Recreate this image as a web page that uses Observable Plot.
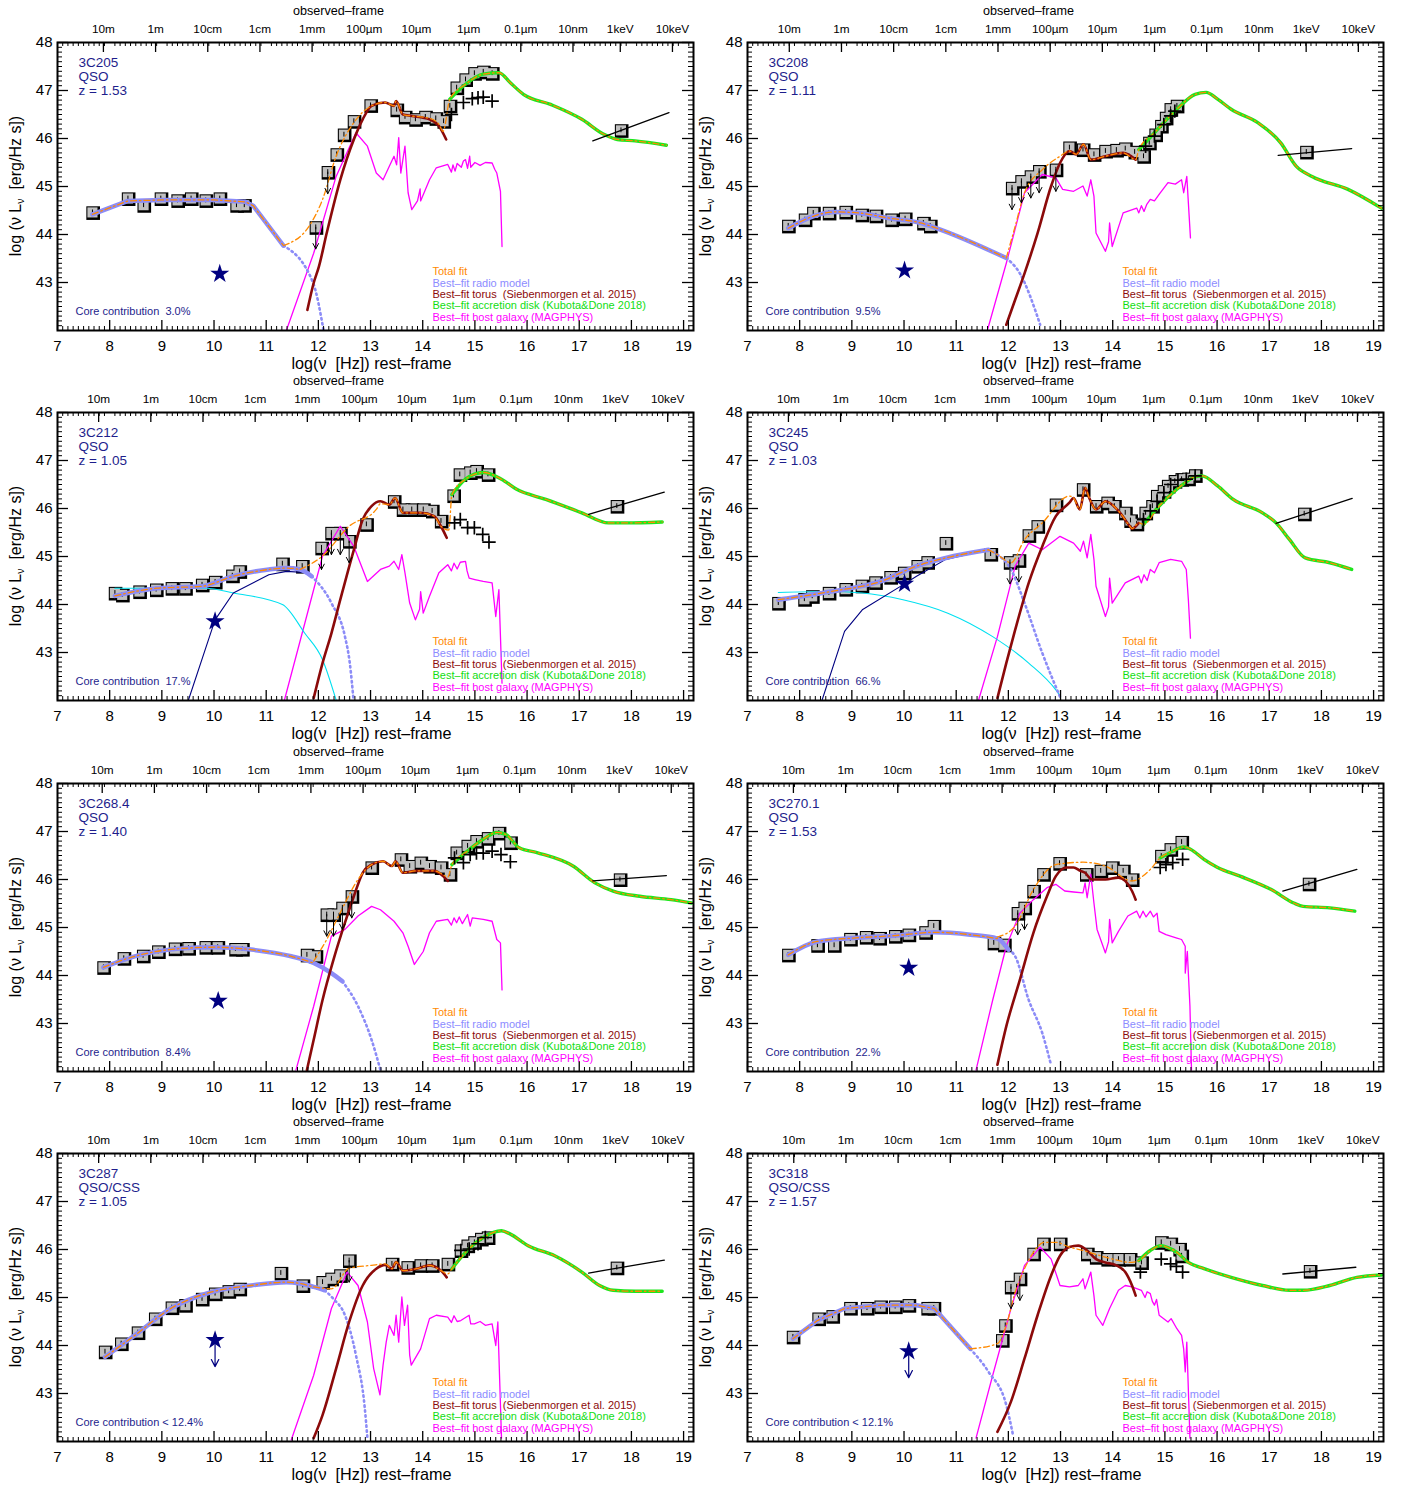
<!DOCTYPE html>
<html><head><meta charset="utf-8">
<script src="https://cdn.jsdelivr.net/npm/d3@7"></script>
<script src="https://cdn.jsdelivr.net/npm/@observablehq/plot@0.6"></script>
<style>
body{margin:0;background:#fff}
#fig{position:relative;width:1406px;height:1489px;overflow:hidden}
#fig svg{position:absolute}
svg text{white-space:pre}
</style></head><body><div id="fig"></div>
<script>
// ---------- panel labels ----------
const names = ["3C205","3C208","3C212","3C245","3C268.4","3C270.1","3C287","3C318"];
const classes = ["QSO","QSO","QSO","QSO","QSO","QSO","QSO/CSS","QSO/CSS"];
const redshifts = [1.53,1.11,1.05,1.03,1.40,1.53,1.05,1.57];
const coreTexts = ["Core contribution  3.0%","Core contribution  9.5%","Core contribution  17.%","Core contribution  66.%","Core contribution  8.4%","Core contribution  22.%","Core contribution < 12.4%","Core contribution < 12.1%"];
const starIsLimit = [false,false,false,false,false,false,true,true];
const brokenRadio = [true,false,false,false,false,false,false,true];
const topLabels = ["10m","1m","10cm","1cm","1mm","100µm","10µm","1µm","0.1µm","10nm","1keV","10keV"];
const topWavelengthsM = [10,1,0.1,0.01,0.001,1e-4,1e-5,1e-6,1e-7,1e-8,null,null];
const topEnergiesKeV = [null,null,null,null,null,null,null,null,null,null,1,10];
const legendLabels = ["Total fit","Best–fit radio model","Best–fit torus  (Siebenmorgen et al. 2015)","Best–fit accretion disk (Kubota&Done 2018)","Best–fit host galaxy (MAGPHYS)"];
const xTickValues = [7,8,9,10,11,12,13,14,15,16,17,18,19];
const yTickValues = [43,44,45,46,47,48];

// ---------- 3C205 ----------
const p205Pts=[[7.67,44.46],[8.35,44.75],[8.65,44.61],[8.98,44.75],[9.30,44.71],[9.56,44.75],[9.84,44.71],[10.11,44.75],[10.43,44.61],[10.58,44.61],[12.35,45.67],[12.49,46.08],[12.68,46.36],[13.00,46.69],[13.50,46.60],[13.66,46.45],[13.86,46.40],[14.05,46.45],[14.25,46.42],[14.40,46.36],[14.52,46.68],[14.65,47.06],[14.82,47.23],[14.99,47.36],[15.16,47.39],[15.33,47.36]];
const p205Lim=[[11.95,44.15],[12.18,45.30]];
const p205Xray=[[17.80,46.17]];
const p205Cross=[[14.55,46.50],[14.78,46.75],[14.95,46.83],[15.06,46.85],[15.16,46.86],[15.33,46.78]];
const p205Star=[[10.11,43.18]];
const p205Radio=[[7.67,44.42],[8.35,44.70],[9.0,44.72],[10.0,44.72],[10.6,44.68],[10.75,44.60],[11.33,43.77]];
const p205RadioExt=[[11.33,43.77],[11.9,42.99],[12.1,42.0]];
const p205Mid=[[11.33,43.77],[11.82,44.17],[12.08,44.73],[12.34,45.63],[12.68,46.33],[13.02,46.68],[13.28,46.75],[13.45,46.68],[13.49,46.78],[13.62,46.50],[13.79,46.47],[14.13,46.42],[14.31,46.30],[14.39,46.15],[14.52,46.82]];
const p205Torus=[[11.79,42.43],[11.91,42.99],[12.01,43.33],[12.16,44.03],[12.42,45.14],[12.68,45.98],[12.85,46.40],[13.02,46.68],[13.28,46.75],[13.45,46.68],[13.49,46.78],[13.62,46.50],[13.79,46.47],[14.13,46.40],[14.31,46.26],[14.45,45.98]];
const p205Disk=[[14.52,46.82],[14.82,47.13],[15.16,47.34],[15.46,47.37],[15.68,47.16],[15.93,46.92],[16.45,46.71],[17.05,46.40],[17.47,46.09],[17.73,45.98],[18.07,45.95],[18.67,45.86]];
const p205XLine=[[17.26,45.95],[18.72,46.54]];
const p205Host=[[11.39,42.01],[11.91,43.61],[12.34,45.21],[12.72,46.12],[12.94,45.84],[13.11,45.28],[13.24,45.14],[13.36,45.42],[13.45,45.63],[13.50,45.45],[13.54,46.02],[13.58,45.28],[13.66,45.84],[13.72,44.87],[13.79,44.52],[13.90,44.70],[13.95,44.95],[13.96,44.70],[14.13,45.14],[14.26,45.39],[14.48,45.46],[14.55,45.30],[14.58,45.45],[14.62,45.32],[14.66,45.48],[14.74,45.40],[14.78,45.53],[14.82,45.56],[14.86,45.38],[14.90,45.63],[14.92,45.40],[15.00,45.50],[15.10,45.44],[15.20,45.50],[15.33,45.49],[15.38,45.36],[15.42,45.28],[15.49,44.90],[15.52,43.75]];

// ---------- 3C208 ----------
const p208Pts=[[7.78,44.18],[8.10,44.31],[8.26,44.45],[8.56,44.45],[8.88,44.47],[9.19,44.41],[9.46,44.39],[9.76,44.31],[10.02,44.33],[10.37,44.24],[10.50,44.18],[13.17,45.81],[13.43,45.77],[13.64,45.67],[13.86,45.74],[14.07,45.76],[14.24,45.79],[14.42,45.72],[14.59,45.63],[14.70,45.91],[14.82,46.08],[14.93,46.26],[15.02,46.43],[15.11,46.61],[15.23,46.68]];
const p208Lim=[[12.07,44.97],[12.25,45.11],[12.43,45.21],[12.59,45.32],[12.91,45.35]];
const p208Xray=[[17.71,45.72]];
const p208Cross=[[14.63,45.84],[14.80,46.05],[14.98,46.29],[15.11,46.47],[15.19,46.57]];
const p208Star=[[10.01,43.25]];
const p208Radio=[[7.78,44.13],[8.26,44.38],[8.69,44.47],[9.12,44.45],[9.72,44.34],[10.32,44.24],[10.63,44.13],[11.96,43.51]];
const p208RadioExt=[[11.96,43.51],[12.22,43.19],[12.61,42.12]];
const p208Mid=[[11.96,43.51],[12.13,44.17],[12.31,44.87],[12.65,45.35],[12.99,45.63],[13.17,45.74],[13.30,45.67],[13.44,45.88],[13.58,45.56],[13.86,45.63],[14.20,45.70],[14.44,45.56],[14.50,45.77]];
const p208Torus=[[11.96,42.12],[12.13,42.64],[12.31,43.19],[12.56,44.03],[12.82,45.01],[12.99,45.49],[13.17,45.74],[13.30,45.67],[13.44,45.88],[13.58,45.56],[13.86,45.63],[14.20,45.70],[14.44,45.56]];
const p208Disk=[[14.50,45.77],[14.80,46.12],[15.23,46.61],[15.58,46.92],[15.79,46.96],[16.01,46.82],[16.27,46.61],[16.78,46.33],[17.22,45.91],[17.52,45.42],[17.82,45.21],[18.51,44.94],[19.15,44.55]];
const p208XLine=[[17.17,45.65],[18.58,45.79]];
const p208Host=[[11.60,42.01],[11.96,43.40],[12.31,44.87],[12.65,45.25],[12.91,45.18],[13.04,44.94],[13.25,44.90],[13.43,45.01],[13.51,44.80],[13.58,45.14],[13.64,44.80],[13.68,44.03],[13.86,43.65],[13.92,43.85],[13.94,44.24],[13.99,43.75],[14.20,44.45],[14.46,44.55],[14.50,44.45],[14.55,44.60],[14.60,44.48],[14.65,44.62],[14.72,44.73],[14.80,44.70],[14.90,44.85],[15.06,45.08],[15.20,45.05],[15.32,45.14],[15.36,44.87],[15.42,45.21],[15.49,43.93]];

// ---------- 3C212 ----------
const p212Pts=[[8.10,44.24],[8.24,44.20],[8.57,44.27],[8.89,44.31],[9.19,44.34],[9.45,44.34],[9.77,44.41],[10.02,44.47],[10.35,44.60],[10.49,44.69],[11.31,44.85],[11.69,44.80],[12.92,45.67],[13.45,46.15],[13.62,45.98],[13.79,45.98],[14.01,45.98],[14.18,45.95],[14.35,45.74],[14.59,46.27],[14.71,46.71],[14.91,46.75],[15.03,46.78],[15.25,46.71]];
const p212Lim=[[12.06,45.18],[12.25,45.49],[12.42,45.49],[12.59,45.32]];
const p212Xray=[[17.72,46.05]];
const p212Cross=[[14.61,45.70],[14.72,45.77],[14.86,45.60],[14.99,45.60],[15.15,45.46],[15.27,45.30]];
const p212Star=[[10.02,43.65]];
const p212Radio=[[8.10,44.18],[8.91,44.34],[9.77,44.38],[10.37,44.59],[11.05,44.73],[11.39,44.76],[11.65,44.73],[11.87,44.59]];
const p212RadioExt=[[11.87,44.59],[12.25,44.03],[12.51,43.33],[12.60,42.80],[12.68,41.94]];
const p212Mid=[[11.65,44.73],[12.08,45.01],[12.59,45.63],[13.11,45.98],[13.19,46.10],[13.36,46.08],[13.47,46.22],[13.62,45.91],[13.96,45.91],[14.22,45.84],[14.35,45.63],[14.50,45.55],[14.56,46.29]];
const p212Torus=[[11.91,42.05],[12.08,42.78],[12.25,43.40],[12.42,44.10],[12.68,45.14],[12.85,45.77],[13.02,46.05],[13.19,46.15],[13.36,46.08],[13.47,46.22],[13.62,45.91],[13.96,45.91],[14.22,45.84],[14.35,45.63],[14.46,45.39]];
const p212Core=[[9.51,42.01],[10.02,43.68],[10.37,44.24],[11.05,44.62],[11.39,44.69],[11.82,44.66]];
const p212Cyan=[[8.10,44.34],[9.85,44.34],[10.37,44.24],[11.31,44.00],[11.74,43.40],[12.08,42.85],[12.34,42.01]];
const p212Disk=[[14.56,46.29],[14.82,46.61],[15.16,46.75],[15.51,46.61],[15.80,46.40],[16.36,46.19],[17.05,45.91],[17.56,45.70],[17.90,45.70],[18.59,45.72]];
const p212XLine=[[17.18,45.88],[18.63,46.34]];
const p212Host=[[11.35,42.01],[11.74,43.61],[12.08,45.01],[12.42,45.63],[12.68,45.21],[12.94,44.48],[13.19,44.73],[13.36,44.80],[13.45,44.90],[13.54,44.73],[13.60,45.04],[13.66,44.66],[13.75,44.03],[13.86,43.68],[13.94,43.90],[13.96,44.27],[14.01,43.82],[14.13,44.17],[14.31,44.66],[14.48,44.83],[14.55,44.70],[14.60,44.86],[14.66,44.74],[14.72,44.88],[14.82,44.90],[14.85,44.70],[14.89,44.55],[15.00,44.52],[15.16,44.48],[15.33,44.45],[15.40,43.75],[15.46,44.31],[15.52,42.36]];

// ---------- 3C245 ----------
const p245Pts=[[7.59,44.03],[8.09,44.11],[8.24,44.17],[8.56,44.24],[8.88,44.32],[9.19,44.39],[9.45,44.46],[9.74,44.57],[10.00,44.66],[10.26,44.80],[10.45,44.88],[10.80,45.28],[11.66,45.05],[12.39,45.44],[12.56,45.63],[12.91,46.08],[13.43,46.40],[13.68,46.05],[13.90,46.12],[14.03,46.05],[14.24,45.91],[14.34,45.75],[14.46,45.68],[14.63,45.91],[14.76,46.05],[14.85,46.26],[14.98,46.36],[15.06,46.47],[15.19,46.57],[15.32,46.61],[15.45,46.62],[15.58,46.69]];
const p245Lim=[[12.03,44.88],[12.20,44.92]];
const p245Xray=[[17.67,45.89]];
const p245Cross=[[14.59,45.77],[14.72,45.95],[14.85,46.15],[14.98,46.33],[15.11,46.50],[15.25,46.59],[15.41,46.61],[15.58,46.68]];
const p245Star=[[10.01,44.43]];
const p245Radio=[[7.59,44.10],[8.60,44.27],[9.55,44.48],[10.24,44.80],[10.80,44.97],[11.62,45.14]];
const p245RadioExt=[[11.62,45.14],[11.79,45.04],[12.05,44.73],[12.31,44.03],[12.65,42.99],[13.0,42.05]];
const p245Mid=[[11.62,45.14],[11.79,45.04],[12.05,44.87],[12.31,45.35],[12.65,45.70],[13.17,46.26],[13.25,46.22],[13.37,45.98],[13.47,46.43],[13.55,46.22],[13.68,45.98],[13.86,46.15],[14.11,45.95],[14.33,45.63],[14.37,45.58],[14.50,45.70],[14.59,45.67]];
const p245Torus=[[11.79,42.05],[11.96,42.78],[12.13,43.47],[12.39,44.45],[12.65,45.21],[12.91,45.84],[13.17,46.12],[13.25,46.22],[13.37,45.98],[13.47,46.43],[13.55,46.22],[13.68,45.98],[13.86,46.15],[14.11,45.95],[14.33,45.63],[14.37,45.58],[14.50,45.70]];
const p245Core=[[8.43,42.01],[8.86,43.44],[9.20,43.89],[10.01,44.43],[10.24,44.59],[10.80,44.94],[11.62,45.14]];
const p245Cyan=[[7.59,44.25],[8.52,44.27],[9.20,44.24],[9.98,44.10],[10.84,43.82],[11.70,43.33],[12.39,42.78],[12.91,42.22],[13.0,42.08]];
const p245Disk=[[14.59,45.67],[14.89,46.05],[15.23,46.40],[15.58,46.66],[15.71,46.68],[16.01,46.47],[16.31,46.19],[16.87,45.91],[17.13,45.70],[17.39,45.35],[17.69,44.97],[18.16,44.87],[18.58,44.73]];
const p245XLine=[[17.13,45.69],[18.59,46.21]];
const p245Host=[[11.43,42.01],[11.79,43.33],[12.13,44.80],[12.39,45.28],[12.65,45.14],[12.99,45.42],[13.25,45.28],[13.38,45.11],[13.44,45.32],[13.51,44.97],[13.58,45.46],[13.64,44.94],[13.68,44.38],[13.86,43.75],[13.92,43.95],[13.94,44.55],[13.99,44.03],[14.24,44.45],[14.50,44.59],[14.55,44.45],[14.60,44.62],[14.66,44.50],[14.72,44.73],[14.80,44.66],[14.89,44.87],[15.11,44.94],[15.32,44.90],[15.41,44.73],[15.45,44.10],[15.49,43.30]];

// ---------- 3C268.4 ----------
const p268Pts=[[7.88,44.17],[8.27,44.36],[8.64,44.41],[8.93,44.50],[9.25,44.56],[9.51,44.57],[9.84,44.59],[10.07,44.59],[10.41,44.55],[10.54,44.55],[11.78,44.43],[11.95,44.40],[13.02,46.25],[13.58,46.42],[13.75,46.28],[13.96,46.35],[14.13,46.28],[14.35,46.25],[14.52,46.11],[14.65,46.56],[14.86,46.70],[15.03,46.80],[15.25,46.86],[15.46,46.97],[15.68,46.77]];
const p268Lim=[[12.16,45.27],[12.29,45.27],[12.46,45.41],[12.64,45.65]];
const p268Xray=[[17.78,46.00]];
const p268Cross=[[14.61,46.45],[14.78,46.35],[14.91,46.52],[15.03,46.55],[15.16,46.55],[15.33,46.59],[15.50,46.52],[15.68,46.37]];
const p268Star=[[10.08,43.47]];
const p268Radio=[[7.88,44.17],[8.48,44.40],[9.34,44.56],[10.02,44.59],[10.71,44.54],[11.48,44.40],[11.91,44.26],[12.25,44.05],[12.46,43.88]];
const p268RadioExt=[[12.46,43.88],[12.76,43.36],[13.02,42.66],[13.19,42.03]];
const p268Mid=[[11.91,44.30],[12.16,44.75],[12.42,45.31],[12.76,46.00],[13.02,46.31],[13.24,46.38],[13.41,46.28],[13.48,46.38],[13.62,46.14],[13.88,46.18],[14.22,46.18],[14.39,46.10],[14.48,46.05],[14.56,46.31]];
const p268Torus=[[11.78,42.03],[11.91,42.66],[12.08,43.49],[12.29,44.33],[12.51,45.10],[12.68,45.65],[12.85,46.14],[13.02,46.31],[13.24,46.38],[13.41,46.28],[13.48,46.38],[13.62,46.14],[13.88,46.18],[14.22,46.18],[14.39,46.07],[14.48,45.97]];
const p268Disk=[[14.56,46.31],[14.82,46.56],[15.16,46.84],[15.42,46.98],[15.59,46.94],[15.85,46.66],[16.19,46.56],[16.88,46.28],[17.30,45.93],[17.65,45.76],[18.16,45.65],[18.76,45.58],[19.15,45.51]];
const p268XLine=[[17.26,45.97],[18.67,46.08]];
const p268Host=[[11.57,42.03],[11.91,43.36],[12.25,44.82],[12.51,44.96],[12.76,45.24],[13.02,45.44],[13.19,45.37],[13.45,45.13],[13.62,44.89],[13.72,44.61],[13.84,44.23],[14.01,44.50],[14.13,44.89],[14.26,45.13],[14.48,45.17],[14.55,45.05],[14.60,45.20],[14.65,45.10],[14.70,45.22],[14.76,45.08],[14.86,45.27],[14.91,45.03],[14.95,45.20],[15.16,45.17],[15.33,45.13],[15.42,44.75],[15.49,44.68],[15.52,43.70]];

// ---------- 3C270.1 ----------
const p270Pts=[[7.78,44.43],[8.34,44.63],[8.66,44.63],[8.97,44.76],[9.27,44.80],[9.53,44.78],[9.83,44.82],[10.09,44.85],[10.41,44.90],[10.57,45.03],[11.72,44.68],[11.92,44.64],[12.48,45.76],[12.67,46.11],[12.98,46.34],[13.49,46.11],[13.77,46.18],[13.99,46.25],[14.20,46.18],[14.37,46.00],[14.93,46.49],[15.11,46.63],[15.32,46.78]];
const p270Lim=[[12.18,45.30],[12.31,45.41]];
const p270Xray=[[17.76,45.91]];
const p270Cross=[[14.91,46.25],[15.02,46.31],[15.15,46.35],[15.34,46.42]];
const p270Star=[[10.09,44.16]];
const p270Radio=[[7.78,44.43],[8.34,44.71],[9.03,44.78],[9.81,44.83],[10.58,44.90],[11.27,44.85],[11.79,44.77],[12.00,44.54]];
const p270RadioExt=[[12.00,44.54],[12.13,44.40],[12.39,43.49],[12.65,42.80],[12.81,42.17]];
const p270Mid=[[11.79,44.80],[12.13,45.03],[12.48,45.79],[12.91,46.31],[13.43,46.36],[13.86,46.28],[14.37,45.97],[14.72,46.21],[14.91,46.45]];
const p270Torus=[[11.79,42.14],[11.96,42.94],[12.22,43.91],[12.48,44.89],[12.74,45.65],[12.91,46.07],[13.12,46.25],[13.25,46.25],[13.38,46.18],[13.47,46.14],[13.60,46.00],[13.86,46.00],[14.11,46.04],[14.24,45.97],[14.37,45.76],[14.44,45.58]];
const p270Disk=[[14.91,46.45],[15.15,46.59],[15.36,46.68],[15.49,46.63],[15.75,46.42],[16.01,46.25],[16.44,46.07],[17.04,45.79],[17.47,45.51],[17.65,45.44],[18.16,45.41],[18.64,45.34]];
const p270XLine=[[17.26,45.76],[18.68,46.21]];
const p270Host=[[11.38,42.03],[11.70,43.49],[11.96,44.61],[12.22,45.30],[12.48,45.58],[12.74,45.83],[12.91,45.90],[13.08,45.76],[13.25,45.74],[13.43,45.72],[13.47,45.93],[13.51,45.62],[13.58,46.11],[13.64,45.51],[13.70,44.96],[13.86,44.47],[13.92,44.70],[13.94,45.17],[13.99,44.68],[14.11,44.92],[14.29,45.24],[14.46,45.34],[14.52,45.20],[14.58,45.34],[14.64,45.22],[14.72,45.34],[14.78,45.22],[14.85,45.30],[14.89,44.92],[15.02,44.85],[15.23,44.78],[15.32,44.75],[15.39,44.61],[15.39,44.05],[15.43,44.50],[15.48,43.36],[15.51,42.03]];

// ---------- 3C287 ----------
const p287Pts=[[7.91,43.87],[8.22,44.04],[8.54,44.27],[8.87,44.56],[9.19,44.79],[9.45,44.84],[9.77,44.97],[10.02,45.08],[10.28,45.13],[10.49,45.18],[11.28,45.51],[11.70,45.25],[12.08,45.32],[12.25,45.39],[12.42,45.46],[13.41,45.70],[13.71,45.63],[13.96,45.67],[14.18,45.67],[14.48,45.70],[14.73,45.98],[14.86,46.08],[14.99,46.15],[15.12,46.22],[15.25,46.25]];
const p287Lim=[[12.59,45.77]];
const p287Xray=[[17.72,45.62]];
const p287Cross=[[14.73,45.98],[14.89,46.01],[15.06,46.12],[15.20,46.25]];
const p287Star=[[10.02,44.11]];
const p287Radio=[[7.91,43.76],[8.48,44.21],[9.17,44.77],[9.94,45.11],[10.71,45.25],[11.39,45.32],[11.65,45.29],[11.91,45.22],[12.12,45.15]];
const p287RadioExt=[[12.12,45.15],[12.29,44.97],[12.51,44.63],[12.72,43.80],[12.89,42.69],[12.94,42.07]];
const p287Mid=[[11.91,45.22],[12.25,45.18],[12.59,45.61],[13.02,45.67],[13.28,45.70],[13.41,45.60],[13.49,45.74],[13.62,45.56],[13.88,45.60],[14.13,45.67],[14.35,45.56],[14.48,45.49],[14.56,45.60]];
const p287Torus=[[11.91,42.07],[12.08,42.55],[12.34,43.52],[12.59,44.49],[12.85,45.25],[13.11,45.60],[13.28,45.68],[13.41,45.60],[13.49,45.74],[13.62,45.56],[13.88,45.60],[14.13,45.67],[14.35,45.56],[14.46,45.42]];
const p287Disk=[[14.56,45.60],[14.82,45.94],[15.16,46.25],[15.51,46.39],[15.68,46.32],[16.02,46.08],[16.53,45.87],[17.05,45.53],[17.39,45.25],[17.65,45.15],[18.07,45.13],[18.59,45.13]];
const p287XLine=[[17.18,45.51],[18.63,45.78]];
const p287Host=[[11.48,42.03],[11.91,43.38],[12.25,44.77],[12.55,45.53],[12.76,45.25],[12.94,44.49],[13.06,43.52],[13.18,42.97],[13.24,43.59],[13.30,44.07],[13.36,44.42],[13.45,44.21],[13.49,44.63],[13.54,44.07],[13.60,45.01],[13.65,44.42],[13.71,44.84],[13.75,43.80],[13.78,43.59],[13.96,43.93],[14.13,44.56],[14.26,44.63],[14.48,44.59],[14.55,44.48],[14.60,44.62],[14.66,44.50],[14.73,44.52],[14.89,44.63],[14.92,44.45],[14.99,44.45],[15.10,44.50],[15.20,44.42],[15.33,44.45],[15.40,44.00],[15.44,44.49],[15.51,42.07]];

// ---------- 3C318 ----------
const p318Pts=[[7.87,44.18],[8.36,44.56],[8.63,44.61],[8.97,44.78],[9.29,44.78],[9.55,44.81],[9.83,44.81],[10.09,44.84],[10.45,44.78],[10.57,44.78],[11.88,44.11],[11.94,44.42],[12.48,45.91],[12.67,46.12],[12.99,46.12],[13.51,45.91],[13.68,45.84],[13.90,45.80],[14.11,45.80],[14.33,45.80],[14.55,45.73],[14.93,46.15],[15.11,46.12],[15.28,46.01],[15.32,45.87]];
const p318Lim=[[12.05,45.22],[12.22,45.39]];
const p318Xray=[[17.78,45.55]];
const p318Cross=[[14.53,45.53],[14.93,45.80],[15.11,45.70],[15.22,45.65],[15.34,45.53]];
const p318Star=[[10.09,43.88]];
const p318Radio=[[7.87,44.14],[8.34,44.52],[8.86,44.77],[9.55,44.84],[10.24,44.84],[10.58,44.77],[11.27,43.93]];
const p318RadioExt=[[11.27,43.93],[11.62,43.45],[11.96,42.76],[12.09,42.13]];
const p318Mid=[[11.27,43.93],[11.79,44.04],[11.96,44.42],[12.13,45.11],[12.31,45.60],[12.48,45.94],[12.69,46.15],[12.91,46.15],[13.17,46.05],[13.43,45.98],[13.86,45.84],[14.37,45.73],[14.50,45.77]];
const p318Torus=[[11.79,42.20],[12.05,42.83],[12.31,43.73],[12.56,44.63],[12.82,45.46],[12.99,45.87],[13.17,46.05],[13.34,46.08],[13.51,45.98],[13.68,45.80],[13.86,45.73],[14.07,45.67],[14.24,45.53],[14.37,45.25],[14.44,45.04]];
const p318Disk=[[14.50,45.77],[14.72,45.98],[14.93,46.08],[15.06,46.04],[15.23,45.94],[15.45,45.73],[15.75,45.60],[16.27,45.42],[16.87,45.25],[17.39,45.15],[17.65,45.15],[18.16,45.25],[18.68,45.42],[19.15,45.47]];
const p318XLine=[[17.26,45.49],[18.66,45.63]];
const p318Host=[[11.38,42.07],[11.70,43.38],[12.05,44.77],[12.31,45.67],[12.61,46.05],[12.82,45.80],[12.99,45.25],[13.17,45.22],[13.34,45.25],[13.43,45.39],[13.47,45.18],[13.58,45.53],[13.64,45.04],[13.68,44.63],[13.81,44.42],[13.94,44.77],[14.11,45.15],[14.24,45.25],[14.37,45.22],[14.55,45.15],[14.62,45.00],[14.66,45.12],[14.72,45.08],[14.76,44.92],[14.80,44.84],[14.84,44.96],[14.89,44.63],[15.06,44.49],[15.12,44.56],[15.23,44.35],[15.32,44.21],[15.36,43.93],[15.39,43.45],[15.42,44.07],[15.48,42.07]];

// ---------- table built from the arrays ----------
const panels = [
 {pts:p205Pts,lim:p205Lim,xray:p205Xray,cross:p205Cross,star:p205Star,radio:p205Radio,radioExt:p205RadioExt,mid:p205Mid,torus:p205Torus,disk:p205Disk,xline:p205XLine,host:p205Host},
 {pts:p208Pts,lim:p208Lim,xray:p208Xray,cross:p208Cross,star:p208Star,radio:p208Radio,radioExt:p208RadioExt,mid:p208Mid,torus:p208Torus,disk:p208Disk,xline:p208XLine,host:p208Host},
 {pts:p212Pts,lim:p212Lim,xray:p212Xray,cross:p212Cross,star:p212Star,radio:p212Radio,radioExt:p212RadioExt,mid:p212Mid,torus:p212Torus,disk:p212Disk,xline:p212XLine,host:p212Host,core:p212Core,cyan:p212Cyan},
 {pts:p245Pts,lim:p245Lim,xray:p245Xray,cross:p245Cross,star:p245Star,radio:p245Radio,radioExt:p245RadioExt,mid:p245Mid,torus:p245Torus,disk:p245Disk,xline:p245XLine,host:p245Host,core:p245Core,cyan:p245Cyan},
 {pts:p268Pts,lim:p268Lim,xray:p268Xray,cross:p268Cross,star:p268Star,radio:p268Radio,radioExt:p268RadioExt,mid:p268Mid,torus:p268Torus,disk:p268Disk,xline:p268XLine,host:p268Host},
 {pts:p270Pts,lim:p270Lim,xray:p270Xray,cross:p270Cross,star:p270Star,radio:p270Radio,radioExt:p270RadioExt,mid:p270Mid,torus:p270Torus,disk:p270Disk,xline:p270XLine,host:p270Host},
 {pts:p287Pts,lim:p287Lim,xray:p287Xray,cross:p287Cross,star:p287Star,radio:p287Radio,radioExt:p287RadioExt,mid:p287Mid,torus:p287Torus,disk:p287Disk,xline:p287XLine,host:p287Host},
 {pts:p318Pts,lim:p318Lim,xray:p318Xray,cross:p318Cross,star:p318Star,radio:p318Radio,radioExt:p318RadioExt,mid:p318Mid,torus:p318Torus,disk:p318Disk,xline:p318XLine,host:p318Host}
];

const NAVY="#1e1e8c", ORANGE="#ff8a00", RADIO="#8c8cf7", TORUS="#8b0a0a", DISK="#1ee61e", HOST="#ff00ff";
const legendColors=[ORANGE,"#8c8cff",TORUS,"#11dd11",HOST];
const FONT="Liberation Sans, Arial, Helvetica, sans-serif";
const X=d=>d[0], Y=d=>d[1];

function makePanel(i){
  const P=panels[i], z=redshifts[i];
  const W=700,H=370,mL=57,mR=7,mT=42,mB=40, iw=W-mL-mR, ih=H-mT-mB;
  const lz=Math.log10(1+z);
  const topTicks=topLabels.map((lab,k)=>({label:lab,
    pos:(topWavelengthsM[k]!=null ? Math.log10(2.998e8/topWavelengthsM[k]) : Math.log10(topEnergiesKeV[k]*1.602177e-16/6.62607e-34)) + lz}));
  const xMinor=d3.range(70,192).filter(v=>v%10!==0).map(v=>v/10);
  const yMinor=d3.range(421,480).filter(v=>v%10!==0).map(v=>v/10);
  const last=P.mid[P.mid.length-1][0];
  const squares=[...P.pts,...P.lim,...P.xray];
  const mc="monotone-x";
  const rc=brokenRadio[i]?"linear":mc;
  // total fit: radio part + bridge/torus part + disk part
  const totalA=[...P.radio.filter(p=>p[0]<=P.mid[0][0])];
  const totalB=[...P.mid,...P.disk.filter(p=>p[0]>last)];
  const marks=[
    Plot.dot(squares,{x:X,y:Y,symbol:"square",r:7.7,fill:"black",dx:0.7,dy:0.7}),
    Plot.dot(squares,{x:X,y:Y,symbol:"square",r:5.7,fill:"#c0c0c0"}),
    Plot.ruleX(squares,{x:X,y1:d=>d[1]-0.05,y2:d=>d[1]+0.05,stroke:"black",strokeWidth:1}),
    Plot.line(P.host,{x:X,y:Y,stroke:HOST,strokeWidth:1.3,clip:true}),
  ];
  if(P.cyan) marks.push(Plot.line(P.cyan,{x:X,y:Y,stroke:"#00e0f0",strokeWidth:1.1,curve:mc,clip:true}));
  if(P.core) marks.push(Plot.line(P.core,{x:X,y:Y,stroke:"#000080",strokeWidth:1.1,clip:true}));
  marks.push(
    Plot.line(P.radioExt,{x:X,y:Y,stroke:RADIO,strokeWidth:2.6,strokeDasharray:"1.5,3.5",curve:mc,clip:true}),
    Plot.line(P.radio,{x:X,y:Y,stroke:RADIO,strokeWidth:4.5,curve:rc,clip:true}),
    Plot.line(P.torus,{x:X,y:Y,stroke:TORUS,strokeWidth:2.6,curve:mc,clip:true}),
    Plot.line(P.disk,{x:X,y:Y,stroke:DISK,strokeWidth:3.4,curve:mc,clip:true}),
    Plot.line(totalA,{x:X,y:Y,stroke:ORANGE,strokeWidth:1.3,strokeDasharray:"6,3,1.5,3",curve:rc,clip:true}),
    Plot.line(totalB,{x:X,y:Y,stroke:ORANGE,strokeWidth:1.3,strokeDasharray:"6,3,1.5,3",curve:mc,clip:true}),
    Plot.line(P.xline,{x:X,y:Y,stroke:"black",strokeWidth:1.3}),
    Plot.dot(P.cross,{x:X,y:Y,symbol:"plus",r:4.4,stroke:"black",strokeWidth:1.7}),
    Plot.arrow(P.lim,{x1:X,y1:Y,x2:X,y2:d=>d[1]-0.45,stroke:"black",strokeWidth:1,headLength:9,headAngle:55}),
    Plot.dot(P.star,{x:X,y:Y,symbol:"star",r:6,fill:"#000080"})
  );
  if(starIsLimit[i]) marks.push(Plot.arrow(P.star,{x1:X,y1:Y,x2:X,y2:d=>d[1]-0.55,stroke:"#000080",strokeWidth:1.2,headLength:10,headAngle:55}));
  // ticks (inward, IDL style)
  marks.push(
    Plot.tickX(xMinor,{x:d=>d,insetTop:ih-4,stroke:"black",strokeWidth:1}),
    Plot.tickX(xMinor,{x:d=>d,insetBottom:ih-4,stroke:"black",strokeWidth:1}),
    Plot.tickX(xTickValues,{x:d=>d,insetTop:ih-10,stroke:"black",strokeWidth:1.3}),
    Plot.tickX(topTicks,{x:"pos",insetBottom:ih-10,stroke:"black",strokeWidth:1.3}),
    Plot.tickY(yMinor,{y:d=>d,insetRight:iw-5,stroke:"black",strokeWidth:1}),
    Plot.tickY(yMinor,{y:d=>d,insetLeft:iw-5,stroke:"black",strokeWidth:1}),
    Plot.tickY(yTickValues,{y:d=>d,insetRight:iw-11,stroke:"black",strokeWidth:1.3}),
    Plot.tickY(yTickValues,{y:d=>d,insetLeft:iw-11,stroke:"black",strokeWidth:1.3}),
    Plot.frame({stroke:"black",strokeWidth:2}),
    Plot.text(xTickValues,{x:d=>d,text:d=>String(d),frameAnchor:"bottom",dy:20,fontSize:15,fill:"black"}),
    Plot.text(yTickValues,{y:d=>d,text:d=>String(d),frameAnchor:"left",dx:-5,textAnchor:"end",fontSize:15,fill:"black"}),
    Plot.text(topTicks,{x:"pos",text:"label",frameAnchor:"top",dy:-18,fontSize:11.8,fill:"black"}),
    Plot.text(["observed–frame"],{frameAnchor:"top-left",dx:281,dy:-36,textAnchor:"middle",fontSize:12.6,fill:"black"}),
    Plot.text(["log(ν  [Hz]) rest–frame"],{frameAnchor:"bottom-left",dx:314,dy:38,textAnchor:"middle",fontSize:16.2,fill:"black"}),
    Plot.text([names[i]],{frameAnchor:"top-left",dx:21,dy:15,textAnchor:"start",fontSize:13.5,fill:NAVY}),
    Plot.text([classes[i]],{frameAnchor:"top-left",dx:21,dy:29,textAnchor:"start",fontSize:13.5,fill:NAVY}),
    Plot.text(["z = "+z.toFixed(2)],{frameAnchor:"top-left",dx:21,dy:43,textAnchor:"start",fontSize:13.5,fill:NAVY}),
    Plot.text([coreTexts[i]],{frameAnchor:"top-left",dx:18,dy:265,textAnchor:"start",fontSize:11,fill:NAVY})
  );
  legendLabels.forEach((lab,k)=>marks.push(Plot.text([lab],{frameAnchor:"top-left",dx:375,dy:225+k*11.3,textAnchor:"start",fontSize:11,fill:legendColors[k]})));
  const svg=Plot.plot({width:W,height:H,marginLeft:mL,marginRight:mR,marginTop:mT,marginBottom:mB,
    x:{domain:[7,19.19],axis:null},y:{domain:[42,48],axis:null},
    style:{fontFamily:FONT,background:"transparent",overflow:"visible"},marks});
  // y-axis title with subscript
  const t=d3.select(svg).append("text").attr("transform","translate(17,186) rotate(-90)")
    .attr("text-anchor","middle").attr("font-size",16).attr("font-family",FONT).attr("dominant-baseline","middle");
  t.append("tspan").text("log (ν L");
  t.append("tspan").attr("dy",4).attr("font-size",10.5).text("ν");
  t.append("tspan").attr("dy",-4).text("  [erg/Hz s])");
  const col=i%2,row=Math.floor(i/2);
  svg.style.left=(col*690)+"px";
  svg.style.top=[0,370,741,1111][row]+"px";
  return svg;
}
const fig=document.getElementById("fig");
for(let i=0;i<8;i++) fig.appendChild(makePanel(i));
</script></body></html>
